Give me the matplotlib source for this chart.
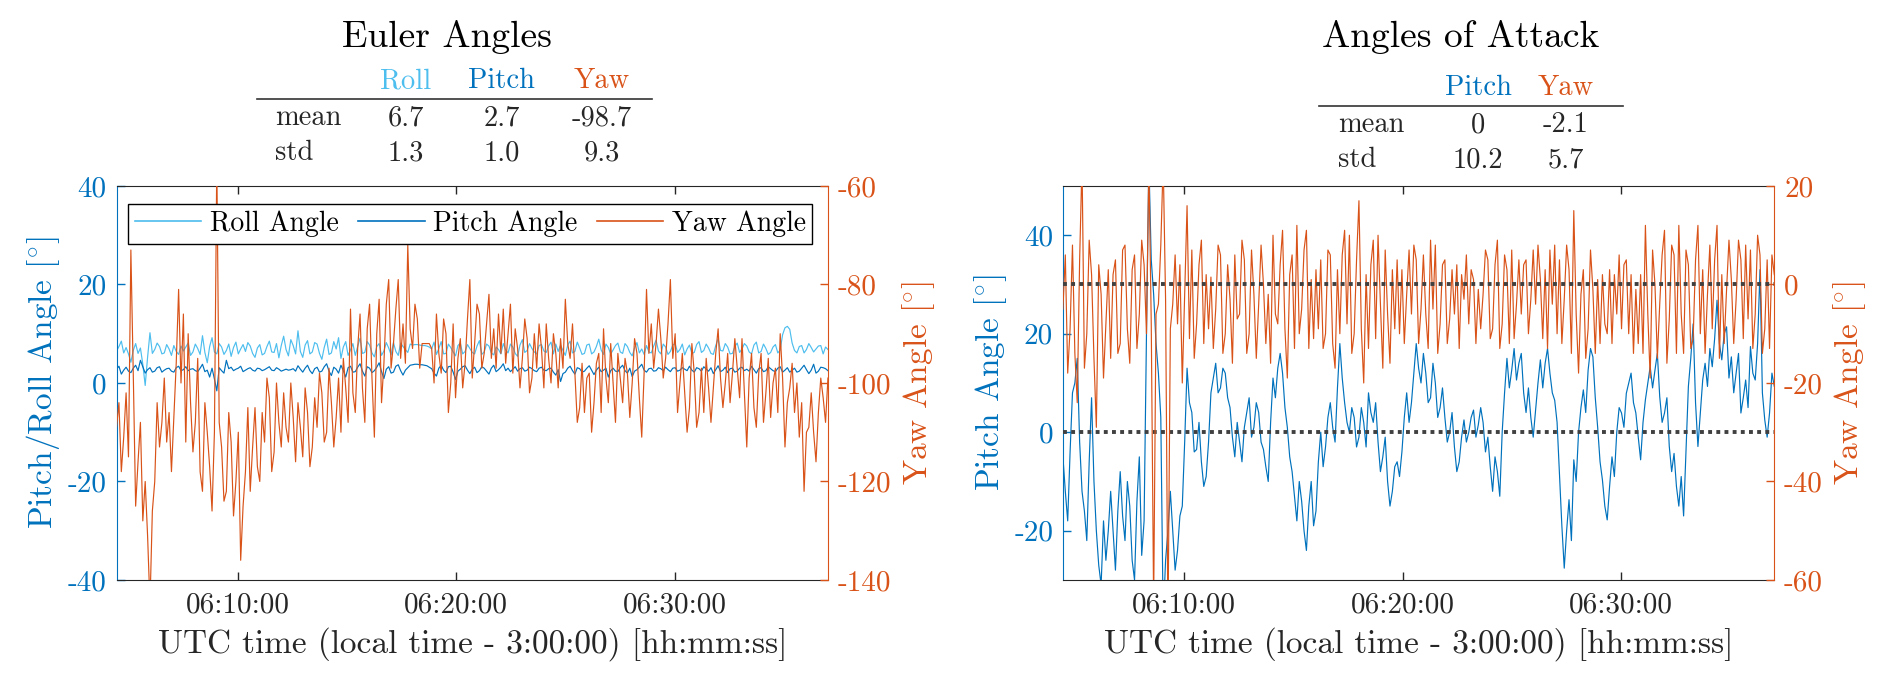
import numpy as np
import matplotlib
matplotlib.use('Agg')
import matplotlib.pyplot as plt
from matplotlib.lines import Line2D

plt.rcParams['font.family'] = ['cmr10', 'DejaVu Sans']
plt.rcParams['mathtext.fontset'] = 'cm'
plt.rcParams['axes.unicode_minus'] = False

BLUE = '#0072BD'
LIGHT = '#4DBEEE'
ORANGE = '#D95319'
DARK = '#262626'

# logger sample clock (UTC); even / odd samples are listed separately below
T_START = '06:04:28'
DT_S = 6.55
XTICKS = ['06:10:00', '06:20:00', '06:30:00']

# ---- Euler angles [deg] ----
roll_even = [
    6.5, 8.5, 7.2, 4.2, 8.0, 7.1, -0.5, 10.2, 6.8, 7.4,
    6.1, 6.9, 7.6, 5.8, 6.5, 8.1, 6.3, 7.0, 9.6, 4.1,
    9.2, 5.9, 7.3, 6.6, 5.4, 8.3, 6.9, 6.4, 7.5, 5.2,
    7.8, 6.0, 8.5, 6.2, 5.1, 9.5, 5.5, 7.6, 10.6, 5.2,
    8.6, 6.3, 7.9, 4.8, 8.9, 6.1, 6.9, 5.0, 8.4, 6.7,
    5.6, 9.1, 6.2, 7.7, 5.3, 8.0, 6.5, 7.1, 8.2, 5.6,
    7.4, 6.2, 7.7, 7.8, 7.6, 7.5, 6.9, 5.8, 8.4, 6.0,
    7.2, 5.5, 8.1, 6.4, 7.0, 5.9, 8.6, 6.3, 7.5, 5.7,
    6.8, 8.0, 6.1, 7.3, 5.4, 8.8, 6.6, 7.0, 5.9, 7.8,
    6.2, 8.3, 7.9, 7.7, 5.6, 8.5, 6.4, 7.1, 6.0, 7.9,
    6.3, 8.9, 5.8, 7.2, 6.7, 8.1, 6.0, 7.4, 5.5, 8.2,
    6.9, 7.6, 6.1, 8.7, 5.9, 7.3, 6.4, 8.0, 6.8, 5.7,
    7.7, 6.2, 8.4, 6.6, 7.1, 5.8, 9.0, 6.5, 7.3, 6.0,
    8.1, 6.9, 7.5, 5.9, 8.3, 6.4, 7.0, 6.2, 7.8, 6.7,
    11.2, 10.9, 6.6, 7.4, 6.1, 8.0, 6.3, 7.5, 5.9, 6.8,
]
roll_odd = [
    7.4, 6.1, 5.9, 6.6, 6.0, 3.8, 5.2, 6.0, 8.1, 5.9,
    7.8, 5.6, 6.4, 7.5, 7.3, 5.6, 7.9, 5.8, 6.2, 7.4,
    6.3, 8.0, 5.8, 7.9, 7.2, 5.9, 7.8, 8.2, 6.0, 7.1,
    5.7, 7.4, 6.3, 8.0, 7.6, 6.8, 8.8, 5.9, 6.4, 7.7,
    5.9, 8.2, 6.0, 7.2, 5.8, 8.4, 9.2, 7.3, 5.6, 8.0,
    7.4, 6.0, 8.4, 6.1, 7.4, 5.6, 8.2, 5.7, 6.4, 8.1,
    6.8, 7.9, 7.8, 7.7, 7.6, 7.3, 8.3, 7.0, 5.9, 7.9,
    6.3, 7.6, 5.9, 7.8, 6.2, 7.5, 5.8, 7.9, 6.1, 7.3,
    5.9, 6.7, 7.9, 6.0, 7.7, 6.2, 8.0, 6.3, 7.6, 6.5,
    7.5, 5.9, 6.4, 6.6, 7.7, 6.1, 8.3, 5.8, 7.7, 5.9,
    7.4, 6.7, 7.9, 5.9, 7.6, 6.3, 8.0, 6.2, 7.1, 6.1,
    5.8, 6.3, 7.5, 6.5, 7.9, 5.8, 7.7, 6.2, 7.9, 6.9,
    6.0, 7.8, 6.2, 7.9, 6.0, 7.6, 6.6, 8.0, 5.9, 7.4,
    6.2, 8.0, 6.3, 7.7, 6.1, 7.9, 5.8, 7.3, 6.1, 9.8,
    11.5, 8.1, 6.1, 7.6, 6.8, 7.2, 6.9, 7.6, 7.3,
]
pitch_even = [
    2.8, 1.8, 3.2, 2.1, 3.6, 4.6, 2.0, 3.1, 2.4, 3.3,
    2.6, 3.0, 2.2, 3.4, 2.7, 2.5, 2.9, 2.3, 3.8, 2.6,
    3.0, -1.6, 2.5, 4.6, 3.2, 2.8, 3.4, 2.6, 3.1, 2.4,
    2.9, 2.7, 3.3, 2.5, 2.8, 2.6, 2.6, 2.9, 3.5, 2.2,
    3.6, 1.9, 3.2, 2.4, 3.9, 1.5, 2.8, 3.6, 1.2, 3.4,
    2.3, 3.9, 1.4, 3.0, 2.5, 4.1, 0.9, 3.3, 2.2, 3.7,
    1.6, 3.1, 3.7, 3.8, 3.7, 3.5, 2.9, 1.4, 3.6, 2.1,
    3.4, 0.7, 2.8, 3.5, 1.9, 3.2, 2.5, 3.0, 1.8, 3.6,
    2.7, 3.9, 3.0, 2.8, 2.4, 3.1, 2.6, 2.9, 2.3, 3.2,
    2.5, 3.0, 1.6, 0.3, 2.2, 3.4, 1.8, 2.9, 2.4, 3.5,
    1.7, 3.2, 2.6, 1.2, 3.0, 2.3, 3.6, 2.0, 1.3, 2.7,
    3.8, 2.2, 3.0, 2.5, 2.9, 3.2, 2.3, 3.1, 2.6, 2.8,
    3.4, 2.2, 2.9, 3.3, 2.4, 1.9, 3.5, 2.6, 2.1, 3.0,
    2.4, 3.2, 2.8, 3.4, 2.0, 3.1, 2.5, 2.9, 2.3, 3.3,
    2.6, 2.2, 3.0, 2.4, 3.6, 1.9, 3.8, 2.4, 3.1, 2.5,
]
pitch_odd = [
    3.4, 2.6, 2.4, 3.0, 2.5, 3.3, 2.7, 2.2, 3.1, 2.2,
    2.9, 2.4, 3.1, 2.5, 3.3, 2.8, 2.5, 3.0, 2.3, 1.2,
    0.8, 3.1, 2.0, 2.9, 2.5, 3.0, 2.3, 2.9, 2.6, 3.0,
    2.5, 3.0, 2.6, 3.1, 2.4, 2.8, 2.7, 2.4, 2.8, 3.0,
    2.5, 2.9, 2.2, 3.3, 2.4, 3.2, 2.0, 2.5, 3.1, 2.2,
    3.2, 2.4, 3.3, 2.1, 3.2, 2.3, 2.8, 2.0, 3.4, 2.5,
    2.6, 3.6, 3.8, 3.7, 3.6, 3.2, 2.0, 3.0, 2.6, 3.3,
    2.2, 2.4, 3.3, 2.6, 2.8, 2.1, 3.3, 2.4, 3.0, 2.3,
    3.2, 2.5, 2.3, 3.3, 2.9, 2.4, 3.2, 2.5, 3.0, 2.6,
    2.9, 2.2, 2.7, 1.9, 3.0, 2.5, 3.1, 2.2, 3.0, 2.6,
    2.6, 2.3, 3.0, 2.5, 2.4, 3.1, 2.5, 3.0, 2.4, 3.2,
    2.6, 2.9, 2.4, 3.1, 2.5, 2.7, 3.0, 2.4, 3.1, 2.5,
    2.6, 3.1, 2.4, 2.8, 3.1, 2.7, 2.3, 3.2, 2.9, 2.2,
    3.0, 2.5, 2.4, 2.7, 2.9, 2.3, 3.3, 2.5, 3.0, 2.2,
    3.1, 2.6, 2.2, 3.0, 2.7, 2.6, 2.0, 3.2, 2.9,
]
yaw_even = [
    -109, -118, -102, -73, -125, -108, -120, -145, -120, -113,
    -99, -106, -107, -81, -86, -90, -114, -95, -122, -110,
    -126, -55, -113, -122, -112, -120, -136, -118, -122, -105,
    -120, -112, -103, -114, -108, -102, -112, -107, -104, -115,
    -106, -113, -109, -102, -110, -104, -107, -110, -101, -85,
    -106, -86, -108, -84, -111, -83, -96, -79, -92, -79,
    -88, -72, -93, -87, -92, -92, -93, -86, -98, -90,
    -100, -103, -91, -96, -79, -92, -86, -94, -82, -89,
    -86, -85, -90, -98, -93, -95, -91, -99, -97, -93,
    -88, -100, -94, -91, -83, -95, -98, -105, -106, -98,
    -104, -94, -89, -104, -100, -94, -104, -98, -100, -94,
    -111, -81, -88, -92, -91, -95, -79, -90, -100, -102,
    -105, -98, -106, -106, -101, -101, -89, -105, -94, -98,
    -97, -91, -113, -94, -109, -94, -102, -107, -97, -90,
    -113, -101, -106, -111, -122, -109, -110, -106, -103, -99,
]
yaw_odd = [
    -104, -111, -115, -98, -116, -128, -131, -126, -104, -108,
    -112, -118, -96, -100, -112, -104, -108, -118, -104, -117,
    -110, -108, -124, -106, -127, -110, -125, -105, -113, -117,
    -106, -99, -118, -100, -113, -109, -100, -116, -109, -101,
    -117, -103, -98, -112, -97, -113, -99, -95, -108, -102,
    -93, -101, -89, -99, -90, -104, -84, -97, -85, -95,
    -96, -89, -84, -97, -92, -92, -100, -94, -87, -106,
    -88, -95, -101, -87, -99, -84, -97, -88, -95, -97,
    -94, -96, -84, -89, -101, -87, -102, -90, -88, -101,
    -95, -90, -101, -97, -92, -88, -108, -96, -99, -110,
    -96, -106, -99, -92, -108, -99, -95, -107, -91, -103,
    -98, -94, -97, -85, -99, -88, -95, -106, -94, -110,
    -92, -109, -97, -95, -108, -94, -99, -100, -104, -91,
    -103, -102, -99, -105, -98, -108, -95, -100, -106, -99,
    -104, -96, -100, -104, -110, -102, -116, -99, -108,
]

# ---- angles of attack [deg] ----
aoa_pitch_even = [
    -5, -18, 8, 15, -12, -22, 7, -20, -31, -26,
    -12, -28, -8, -22, -15, -30, -5, -18, 55, 28,
    12, -38, -20, -20, -24, -15, 13, 4, -3.5, -6,
    -9, 8, 14, 9, 12, 5, -5, -2, 1, 7,
    1, 4, -3.5, -10, 11, 13, 12, 1, -8, -18,
    -14, -24, -10, -16, 0, -3, 6, -2, 18, 6,
    0, 3, -1, 2, 8, 2, -2, -5, -10, -12,
    -6, -4, 8, 6, 18, 10, 12, 7, 10, 5,
    3, 0, -3, -6, 2.5, 0, 4.5, 1.5, 2, -1,
    -12, -8, 0, 15, 12.6, 10.6, 16, 4, 3, 4.5,
    14.7, 14, 12, 6.5, -8.3, -27.6, -13.7, -5.6, 0, 8.6,
    12.6, 15.3, 1, -9.7, -17.8, -5, 0, 3.9, 7.9, 12,
    3.9, -5.6, 6.6, 13.3, 12.6, 7.2, 3.9, -2.9, -4.3, -15,
    -17, 9.3, 22, -2.9, 10.6, 9.3, 13.3, 26.8, 14.7, 21.4,
    15.3, 12, 3.9, 10.6, 17.4, 10.6, 33, 2.5, 3.9, 9.3,
]
aoa_pitch_odd = [
    -12, -4, 10, -2, -16, -6, -10, -27, -18, -20,
    -20, -16, -17, -10, -26, -14, -25, 20, 35, 18,
    3, -26, -12, -28, -17, -2, 6, -4, 2, -11,
    -2, 11, 8, 13, 7, -1, 2, -6, 4, -1,
    6, -2, -7, 2, 7, 16, 5, -5, -13, -10,
    -20, -15, -19, -6, -7, 3, 1, 9, 11, 2,
    5, -3, 5, -3, 4, 6, -8, -1, -15, -7,
    -9, 3, 2, 12, 13, 16, 6, 14, 3, 9,
    -2, 4, -8, -1, -2, 3, -1, 5, -4, -7,
    -5, -13, 8, 9, 17, 14, 8, 9, -1, 10,
    9, 17, 8, 2, -19, -20, -22, -10, 5, 4,
    17, 7, -6, -15, -11, -9, 5, 1, 10, 6,
    -1, 2, 10, 9, 16, 2, 7, -8, -11, -9,
    -4, 15, 6, 4, 14, 17, 19, 18, 20, 11,
    8, 16, 7, 5, 12, 18, 8, -1, 12,
]
aoa_yaw_even = [
    -5, -18, 8, -24, 25, -10, 2, -29, -2, -8,
    -15, 5, -12, 8, -16, 6, -6, 4, 25, -65,
    -4, 25, -70, -4, -8, -20, 16, 7, -8, 9,
    2, 1.5, -5, 6, -10, -3, 6, -6, 5, -10,
    -2, -4, 0, -2, 10, -8, 11, -19, 6, 12,
    -5, 11, 1, 3, 5, -10, 6, -17, -10, 11,
    10, -10, 17, -20, -13, 9, 10, -17, -6, 3,
    5, 3, -2, -6, 5, -5, -6, 9, 8, -8,
    5, -7, -6, -13, -3, -8, 1, -1, -2, 5,
    -9, 9, -8, 3, 7, -4, -6, 5, -3, -4,
    1, 3, 7, 8, 5, -3, 3, 15, -18, 3,
    -9, -1, 1, 2, -10, -12, -6, -9, 5, 2,
    -1, 2, 12, -19, 0, -4, 11, -7, 6, 12,
    -14, 4, -11, 12, 3, -2, -9, 12, 2, -1,
    1, -3, 5, 8, 7, -6, 6, -9, -13, 2,
]
aoa_yaw_odd = [
    6, -9, -14, 5, -17, 9, -15, 4, -19, 3,
    2, -14, 7, -9, 3, -13, 9, -10, -8, -6,
    8, -3, -9, 6, 4, -2, -11, -15, 4, -12,
    -9, -13, 8, -14, 4, -16, -7, 9, -14, 7,
    -15, 8, -12, -16, -6, 4, -9, 2, -13, -10,
    7, -13, -11, -9, -13, 7, -12, 3, 6, -8,
    -14, 5, -9, 2, 4, -11, -4, 7, -16, -9,
    -10, -12, 7, 8, -12, 6, -13, -5, -14, 4,
    -12, 3, 4, 2, 6, 3, -12, -9, 7, -11,
    4, -13, 6, -12, -11, 5, 4, -10, 7, 8,
    -11, -13, -4, -10, -12, 8, -14, -6, -2, -15,
    7, -14, -12, -8, 3, 2, 6, 4, -10, -14,
    -12, -14, -6, 7, -15, 6, -16, 8, -14, -6,
    7, -13, 5, -10, -14, 8, 5, -15, -12, 9,
    -12, 9, -11, -7, -13, 10, -14, 5, 6,
]

# summary tables shown above each panel
euler_cols = ['Roll', 'Pitch', 'Yaw']
euler_mean = ['6.7', '2.7', '-98.7']
euler_std = ['1.3', '1.0', '9.3']
aoa_cols = ['Pitch', 'Yaw']
aoa_mean = ['0', '-2.1']
aoa_std = ['10.2', '5.7']


def hms_to_s(s):
    h, m, sec = (int(v) for v in s.split(':'))
    return h * 3600 + m * 60 + sec


def s_to_hms(x, pos=None):
    x = int(round(x))
    return f'{x // 3600:02d}:{x % 3600 // 60:02d}:{x % 60:02d}'


def samples(even, odd):
    # put even and odd logger samples back in time order
    vals = []
    for i, v in enumerate(even):
        vals.append(v)
        if i < len(odd):
            vals.append(odd[i])
    t = hms_to_s(T_START) + DT_S * np.arange(len(vals))
    return t, np.array(vals, dtype=float)


t_roll, roll = samples(roll_even, roll_odd)
t_pitch, pitch = samples(pitch_even, pitch_odd)
t_yaw, yaw = samples(yaw_even, yaw_odd)
t_ap, aoa_pitch = samples(aoa_pitch_even, aoa_pitch_odd)
t_ay, aoa_yaw = samples(aoa_yaw_even, aoa_yaw_odd)

fig = plt.figure(figsize=(18.92, 6.88), dpi=100)
ax1 = fig.add_axes([0.0616, 0.157, 0.376, 0.5727])
ax2 = fig.add_axes([0.5618, 0.157, 0.376, 0.5727])
tw1 = ax1.twinx()
tw2 = ax2.twinx()

DEG = r'$[^{\circ}]$'


def style(ax, tw, lc, rc, ylab_l, ylab_r):
    ax.set_xlim(t_roll[0], t_roll[-1])
    ax.set_xticks([hms_to_s(s) for s in XTICKS])
    ax.xaxis.set_major_formatter(plt.FuncFormatter(s_to_hms))
    for s in ('top', 'bottom'):
        ax.spines[s].set_color(DARK)
    ax.spines['left'].set_color(lc)
    ax.spines['right'].set_visible(False)
    for s in ('left', 'top', 'bottom'):
        tw.spines[s].set_visible(False)
    tw.spines['right'].set_color(rc)
    ax.tick_params(axis='x', direction='in', top=True, length=6, width=1,
                   color=DARK, labelcolor=DARK, labelsize=21, pad=9)
    ax.tick_params(axis='y', direction='in', length=6, width=1,
                   colors=lc, labelsize=21, pad=7)
    tw.tick_params(axis='y', direction='in', length=6, width=1,
                   colors=rc, labelsize=21, pad=7)
    ax.set_xlabel('UTC time (local time - 3:00:00) [hh:mm:ss]', fontsize=24,
                  color=DARK, labelpad=6)
    ax.set_ylabel(ylab_l, fontsize=24, color=lc, labelpad=4)
    tw.set_ylabel(ylab_r, fontsize=24, color=rc, labelpad=6)


# left panel: Euler angles
l_roll, = ax1.plot(t_roll, roll, color=LIGHT, lw=0.85, label='Roll Angle')
l_pitch, = ax1.plot(t_pitch, pitch, color=BLUE, lw=0.85, label='Pitch Angle')
l_yaw, = tw1.plot(t_yaw, yaw, color=ORANGE, lw=0.85, label='Yaw Angle')
ax1.set_ylim(-40, 40)
ax1.set_yticks([-40, -20, 0, 20, 40])
tw1.set_ylim(-140, -60)
tw1.set_yticks([-140, -120, -100, -80, -60])
style(ax1, tw1, BLUE, ORANGE, 'Pitch/Roll Angle ' + DEG, 'Yaw Angle ' + DEG)

leg = tw1.legend(handles=[l_roll, l_pitch, l_yaw], loc='upper center',
                 bbox_to_anchor=(0.497, 0.955), ncol=3, fontsize=20,
                 fancybox=False, edgecolor='black', framealpha=1,
                 handlelength=2.4, handletextpad=0.3, columnspacing=0.7,
                 borderpad=0.25, borderaxespad=0)
leg.get_frame().set_linewidth(1.0)
for h in leg.get_lines():
    h.set_linewidth(1.2)

# right panel: angles of attack
ax2.plot(t_ap, aoa_pitch, color=BLUE, lw=0.85)
tw2.plot(t_ay, aoa_yaw, color=ORANGE, lw=0.85)
ax2.set_ylim(-30, 50)
ax2.set_yticks([-20, 0, 20, 40])
tw2.set_ylim(-60, 20)
tw2.set_yticks([-60, -40, -20, 0, 20])
ax2.axhline(0, color='#404040', lw=2.8, ls=(0, (1, 1.1)), zorder=5)
tw2.axhline(0, color='#404040', lw=2.8, ls=(0, (1, 1.1)), zorder=5)
style(ax2, tw2, BLUE, ORANGE, 'Pitch Angle ' + DEG, 'Yaw Angle ' + DEG)


def table(title, title_x, x_row, xs, cols, colors, mean, std, ys, line_x):
    y_title, y_head, y_line, y_mean, y_std = ys
    fig.text(title_x, y_title, title, ha='center', va='baseline', fontsize=27, color='black')
    for x, c, col in zip(xs, cols, colors):
        fig.text(x, y_head, c, ha='center', va='baseline', fontsize=20.5, color=col)
    fig.add_artist(Line2D(line_x, [y_line, y_line], color='#333333', lw=1.2,
                          transform=fig.transFigure))
    fig.text(x_row, y_mean, 'mean', ha='left', va='baseline', fontsize=20.5, color=DARK)
    fig.text(x_row, y_std, 'std', ha='left', va='baseline', fontsize=20.5, color=DARK)
    for x, m, s in zip(xs, mean, std):
        fig.text(x, y_mean, m, ha='center', va='baseline', fontsize=20.5, color=DARK)
        fig.text(x, y_std, s, ha='center', va='baseline', fontsize=20.5, color=DARK)


table('Euler Angles', 0.236, 0.1453, [0.2146, 0.2651, 0.3182], euler_cols,
      [LIGHT, BLUE, ORANGE], euler_mean, euler_std,
      (0.9317, 0.872, 0.856, 0.818, 0.767), [0.1358, 0.3446])
table('Angles of Attack', 0.772, 0.7072, [0.7812, 0.8277], aoa_cols,
      [BLUE, ORANGE], aoa_mean, aoa_std,
      (0.9317, 0.862, 0.846, 0.808, 0.757), [0.6971, 0.8578])

fig.savefig('out.png', dpi=100, facecolor='white')
